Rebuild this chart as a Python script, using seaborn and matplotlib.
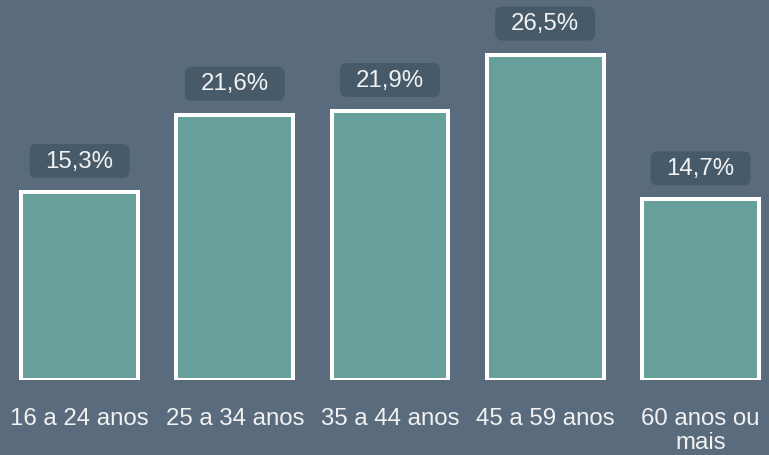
import matplotlib
matplotlib.use("Agg")
import matplotlib.pyplot as plt
from matplotlib.patches import FancyBboxPatch
from matplotlib.transforms import Affine2D, ScaledTranslation
import seaborn as sns
import pandas as pd

categories = ["16 a 24 anos", "25 a 34 anos", "35 a 44 anos", "45 a 59 anos", "60 anos ou\nmais"]
values = [15.3, 21.6, 21.9, 26.5, 14.7]
labels = ["15,3%", "21,6%", "21,9%", "26,5%", "14,7%"]

BG = "#5a6b7d"
BAR = "#67a09b"
BOX = "#475a6a"
TXT = "#f2f2f2"

sns.set_theme(style="white")
plt.rcParams["font.family"] = ["Liberation Sans", "DejaVu Sans"]

fig = plt.figure(figsize=(7.69, 4.56), dpi=100, facecolor=BG)
ax = fig.add_axes([0, 75.5 / 456, 1, 380.5 / 456])
ax.set_facecolor(BG)

df = pd.DataFrame({"cat": categories, "val": values})
sns.barplot(data=df, x="cat", y="val", color=BAR, saturation=1, width=0.752,
            edgecolor="white", linewidth=2.9, ax=ax)

ax.set_xlim(-0.512, 4.441)
ax.set_ylim(0, 380.5 / 12.26)
for s in ax.spines.values():
    s.set_visible(False)
ax.set_yticks([])
ax.set_xlabel("")
ax.set_ylabel("")
ax.tick_params(axis="x", length=0, pad=20, labelsize=17.3, labelcolor=TXT)
for t in ax.get_xticklabels():
    t.set_linespacing(1.1)

for i, (v, lab) in enumerate(zip(values, labels)):
    tr = Affine2D().translate(0, 31) + ScaledTranslation(i, v, ax.transData)
    box = FancyBboxPatch((-50, -17), 100, 34,
                         boxstyle="round,pad=0,rounding_size=7",
                         fc=BOX, ec="none", transform=tr, clip_on=False)
    ax.add_patch(box)
    ax.annotate(lab, xy=(i, v), xytext=(0, 22.5), textcoords="offset points",
                ha="center", va="center", fontsize=17.3, color=TXT)

fig.savefig("out.png", dpi=100, facecolor=BG)
